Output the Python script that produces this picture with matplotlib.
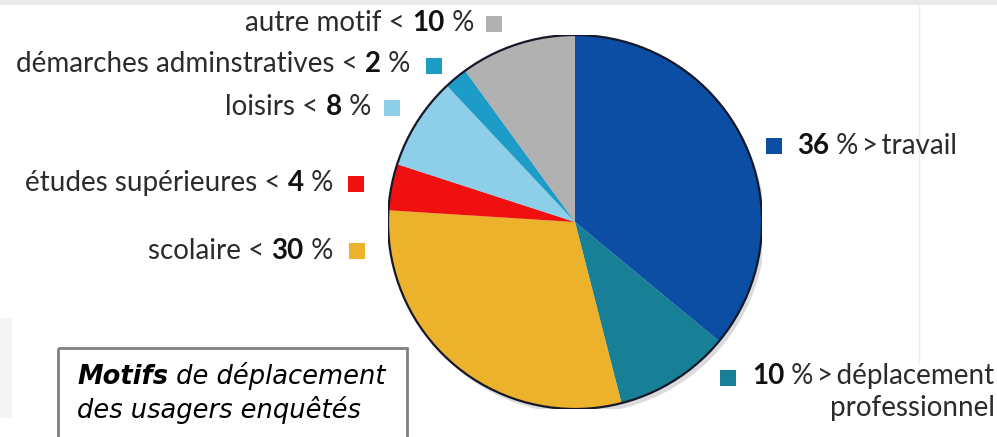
import matplotlib
matplotlib.use('Agg')
import matplotlib.pyplot as plt
from matplotlib.patches import Circle, Rectangle
from matplotlib.offsetbox import TextArea, HPacker, AnnotationBbox

# data
motifs  = ['travail', 'déplacement', 'scolaire', 'études supérieures',
           'loisirs', 'démarches adminstratives', 'autre motif']
parts   = [36, 10, 30, 4, 8, 2, 10]
colours = ['#0c4ea4', '#178096', '#ecb22c', '#f0100f',
           '#8dcfe8', '#1d9cc8', '#b1b1b1']
second_line = 'professionnel'
title_bold = 'Motifs'
title_rest = [' de déplacement', 'des usagers enquêtés']

W, H = 997, 437
fig = plt.figure(figsize=(W / 100, H / 100), dpi=100)
fig.patch.set_facecolor('white')

# overlay in pixel coordinates (y downwards) for labels and frame
bg = fig.add_axes([0, 0, 1, 1])
bg.set_xlim(0, W)
bg.set_ylim(H, 0)
bg.axis('off')

# scan artefacts of the original picture
bg.add_patch(Rectangle((0, 0), W, 5, color='#ebe9e9', lw=0))
bg.plot([919, 919], [5, 365], color='#efefef', lw=1)
bg.add_patch(Rectangle((0, 318), 12, 100, color='#f6f5f5', lw=0))

# pie, centre (575, 222) px, radius 187 px
cx, cy, r = 575, 222, 187
ax = fig.add_axes([(cx - r) / W, (H - cy - r) / H, 2 * r / W, 2 * r / H])
ax.add_patch(Circle((0.018, -0.025), 1.0, color='#9a9a9a', alpha=0.35, lw=0, zorder=0))
ax.pie(parts, colors=colours, startangle=90, counterclock=False, radius=1,
       wedgeprops=dict(linewidth=0))
ax.add_patch(Circle((0, 0), 1.0, fill=False, ec='#15182a', lw=1.6, zorder=5))
ax.set_xlim(-1.0, 1.0)
ax.set_ylim(-1.0, 1.0)
ax.axis('off')

font = ['Lato', 'DejaVu Sans']
size = 20
reg  = dict(family=font, size=size, color='#2b2b2b')
bold = dict(family=font, size=size, color='#111111', weight='bold')
thin = '\u2009'


def label_box(pieces):
    areas = [TextArea(t, textprops=bold if b else reg) for t, b in pieces]
    return HPacker(children=areas, pad=0, sep=0, align='baseline')


def place(box, xy, align):
    ab = AnnotationBbox(box, xy, xycoords=bg.transData, frameon=False,
                        box_alignment=align, pad=0)
    bg.add_artist(ab)
    return ab


def square(xy, colour):
    bg.add_patch(Rectangle((xy[0] - 8, xy[1] - 8), 16, 16, color=colour, lw=0))


# left side labels: text right end, square centre
left = {2: ((333, 251), (357, 251)),
        3: ((333, 183), (356, 184)),
        4: ((371, 107), (392, 108)),
        5: ((410, 64), (434, 66)),
        6: ((474, 23), (494, 24))}
for i, (txy, sxy) in left.items():
    place(label_box([(motifs[i] + ' < ', False), (str(parts[i]), True), (' %', False)]),
          txy, (1, 0.5))
    square(sxy, colours[i])

# right side labels
square((774, 146), colours[0])
place(label_box([(str(parts[0]), True), (' %' + thin + '>' + thin + motifs[0], False)]),
      (797, 146), (0, 0.5))

square((728, 378), colours[1])
ab1 = place(label_box([(str(parts[1]), True), (' %' + thin + '>' + thin + motifs[1], False)]),
            (752, 376), (0, 0.5))

# caption frame
bg.add_patch(Rectangle((58, 348), 349, 100, fill=False, ec='#808080', lw=2))
cap = dict(family='DejaVu Sans', size=18.5, style='italic', color='black')
t = bg.text(77, 384, title_bold, fontdict=dict(cap, weight='bold'), va='baseline')

fig.canvas.draw()
inv = bg.transData.inverted()
rend = fig.canvas.get_renderer()

x_right = inv.transform((ab1.get_window_extent(rend).x1, 0))[0]
bg.text(x_right, 416, second_line, fontdict=reg, ha='right', va='baseline')

x_end = inv.transform((t.get_window_extent().x1, 0))[0]
bg.text(x_end, 384, title_rest[0], fontdict=cap, va='baseline')
bg.text(77, 418, title_rest[1], fontdict=cap, va='baseline')

fig.savefig('out.png', dpi=100, facecolor='white')
